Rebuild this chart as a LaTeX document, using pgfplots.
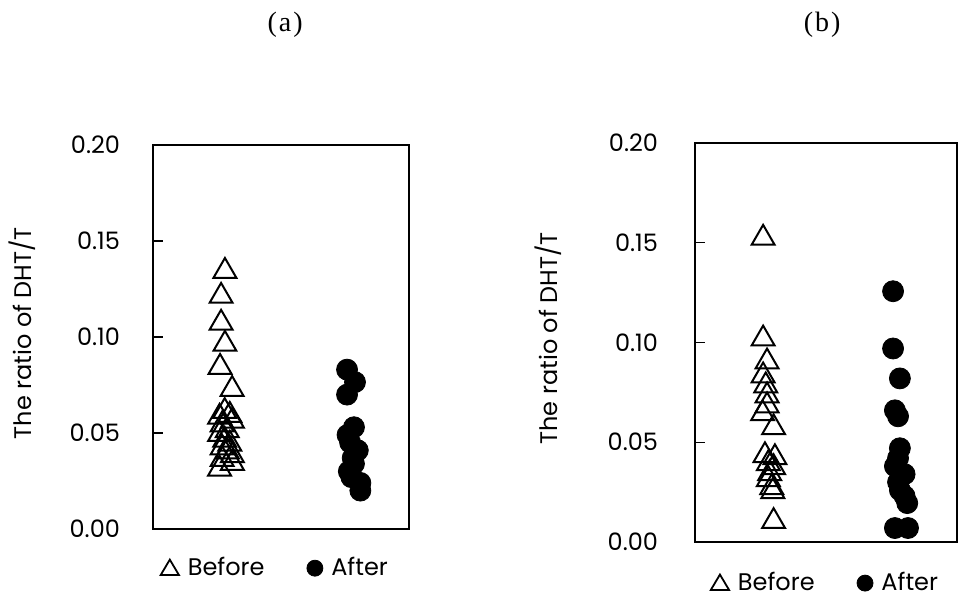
\documentclass[border=0pt]{standalone}
\usepackage{pgfplots}
\pgfplotsset{compat=1.18}
\usepackage{fontspec}
\setmainfont{Poppins}
\newfontfamily\titlefont{Liberation Serif}

\pgfplotsset{
  panel/.style={
    scale only axis,
    anchor=south west,
    xmin=0, xmax=1, ymin=0, ymax=0.2,
    xtick=\empty,
    ytick={0,0.05,0.1,0.15,0.2},
    ytick pos=left,
    tick align=inside,
    major tick length=5pt,
    axis line style={line width=0.6pt},
    every tick/.style={black, line width=0.6pt},
    /pgf/number format/assume math mode=true,
    yticklabel style={/pgf/number format/fixed, /pgf/number format/fixed zerofill, /pgf/number format/precision=2},
    font=\fontsize{12}{14}\selectfont,
    every axis title/.style={font=\titlefont\fontsize{14}{16}\selectfont, anchor=center},
    legend columns=2,
    legend style={draw=none, fill=none, anchor=center, font=\fontsize{12}{14}\selectfont,
      /tikz/every even column/.append style={column sep=19pt},
      /tikz/every odd column/.append style={column sep=2pt}},
  },
  before/.style={only marks, mark=triangle, mark size=6.6pt,
    mark options={draw=black, fill=white, line width=1pt, yshift=-1.65pt},
    legend image code/.code={\draw[black, line width=0.9pt] (-0.16cm,-0.12cm) -- (0.16cm,-0.12cm) -- (0cm,0.15cm) -- cycle;}},
  after/.style={only marks, mark=*, mark size=5.25pt,
    mark options={draw=black, fill=black},
    legend image code/.code={\fill[black] (0cm,0cm) circle (4pt);}},
}

\begin{document}
\begin{tikzpicture}
\path (0,0) rectangle (479pt,300pt);

% Panel (a)
\begin{axis}[panel,
  at={(76.5pt,35.5pt)}, width=128pt, height=192pt,
  title={(\kern1pt a\kern1pt)}, title style={at={(axis description cs:0.516,1.3125)}},
  ylabel={The ratio of DHT/T},
  every axis y label/.style={at={(axis description cs:-0.51,0.51)}, rotate=90, anchor=center},
  yticklabel style={xshift=-13pt},
  legend style={at={(axis description cs:0.48,-0.102)}},
]
\addplot[before] coordinates {
(0.281,0.136) (0.266,0.123) (0.266,0.109) (0.281,0.098) (0.262,0.086) (0.309,0.0745)
(0.28,0.063) (0.30,0.061) (0.26,0.060) (0.31,0.058) (0.27,0.056) (0.29,0.053)
(0.26,0.051) (0.28,0.048) (0.30,0.046) (0.27,0.044) (0.29,0.042) (0.31,0.040)
(0.27,0.038) (0.31,0.036) (0.26,0.033)
};
\addlegendentry{Before}
\addplot[after] coordinates {
(0.758,0.083) (0.789,0.0765) (0.758,0.070) (0.785,0.053) (0.76,0.049) (0.77,0.045)
(0.80,0.041) (0.78,0.037) (0.785,0.034) (0.765,0.030) (0.775,0.027) (0.81,0.024)
(0.81,0.020)
};
\addlegendentry{After}
\end{axis}

% Panel (b)
\begin{axis}[panel,
  at={(347.5pt,29pt)}, width=131pt, height=199.5pt,
  title={(\kern1pt b\kern1pt)}, title style={at={(axis description cs:0.485,1.296)}},
  ylabel={The ratio of DHT/T},
  every axis y label/.style={at={(axis description cs:-0.56,0.51)}, rotate=90, anchor=center},
  yticklabel style={xshift=-15pt},
  legend style={at={(axis description cs:0.5,-0.103)}},
]
\addplot[before] coordinates {
(0.26,0.154) (0.26,0.1035) (0.275,0.092) (0.26,0.085) (0.27,0.080) (0.275,0.075)
(0.275,0.070) (0.258,0.066) (0.30,0.059) (0.267,0.045) (0.305,0.044) (0.28,0.041)
(0.30,0.039) (0.285,0.036) (0.28,0.033) (0.293,0.029) (0.297,0.027) (0.30,0.012)
};
\addlegendentry{Before}
\addplot[after] coordinates {
(0.756,0.1257) (0.756,0.097) (0.782,0.082) (0.763,0.066) (0.775,0.063) (0.782,0.047)
(0.775,0.042) (0.763,0.038) (0.80,0.034) (0.775,0.030) (0.782,0.026) (0.80,0.023)
(0.81,0.0195) (0.763,0.007) (0.813,0.007)
};
\addlegendentry{After}
\end{axis}
\end{tikzpicture}
\end{document}
